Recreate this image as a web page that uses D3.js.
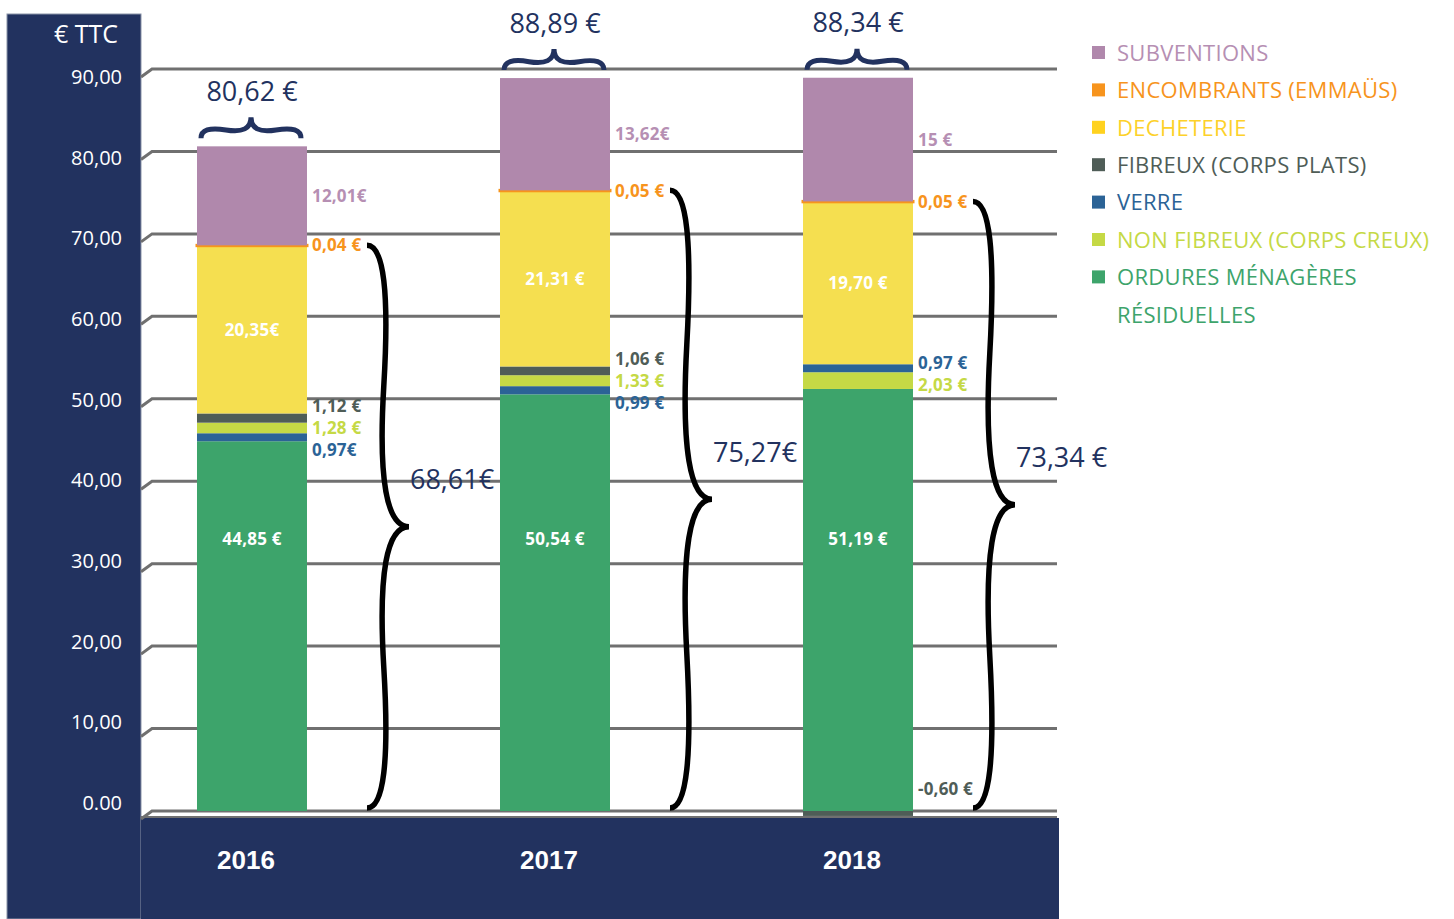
<!DOCTYPE html>
<head>
  <meta charset="utf-8">
  <title>Coût du service déchets par habitant</title>
  <script src="https://d3js.org/d3.v7.min.js"></script>
  <style>
    body { margin: 0; background: #fff; }
    text { font-family: "Open Sans", sans-serif; }
    .tick-label { fill: #fff; font-size: 20px; }
    .year { fill: #fff; font-family: "Liberation Sans", Arial, sans-serif; font-weight: bold; font-size: 26px; }
    .val { font-size: 17px; font-weight: bold; letter-spacing: 0.2px; }
    .total { fill: #22325F; font-size: 27px; }
    .legend text { font-size: 22px; letter-spacing: 0.3px; }
  </style>
</head>
<body>
  <svg width="1454" height="919"></svg>
  <script>
    // data
    const years = ["2016", "2017", "2018"];
    const tickValues = [0, 10, 20, 30, 40, 50, 60, 70, 80, 90];
    const tickLabels = ["0.00", "10,00", "20,00", "30,00", "40,00", "50,00", "60,00", "70,00", "80,00", "90,00"];

    const ordures     = [44.85, 50.54, 51.19];
    const verre       = [0.97, 0.99, 0.97];
    const nonFibreux  = [1.28, 1.33, 2.03];
    const fibreux     = [1.12, 1.06, -0.60];
    const decheterie  = [20.35, 21.31, 19.70];
    const encombrants = [0.04, 0.05, 0.05];
    const subventions = [12.01, 13.62, 15];

    const ordLabels  = ["44,85 €", "50,54 €", "51,19 €"];
    const verLabels  = ["0,97€", "0,99 €", "0,97 €"];
    const nfLabels   = ["1,28 €", "1,33 €", "2,03 €"];
    const fibLabels  = ["1,12 €", "1,06 €", "-0,60 €"];
    const decLabels  = ["20,35€", "21,31 €", "19,70 €"];
    const encLabels  = ["0,04 €", "0,05 €", "0,05 €"];
    const subLabels  = ["12,01€", "13,62€", "15 €"];

    const totalLabels    = ["80,62 €", "88,89 €", "88,34 €"];
    const subtotalLabels = ["68,61€", "75,27€", "73,34 €"];

    // series (bottom to top)
    const series = [
      {key: "ord", name: "ORDURES MÉNAGÈRES|RÉSIDUELLES", values: ordures, labels: ordLabels, color: "#3DA46B", text: "#3DA46B", inside: true},
      {key: "ver", name: "VERRE", values: verre, labels: verLabels, color: "#2B6396", text: "#2B6396"},
      {key: "nf", name: "NON FIBREUX (CORPS CREUX)", values: nonFibreux, labels: nfLabels, color: "#C5D945", text: "#C5D945"},
      {key: "fib", name: "FIBREUX (CORPS PLATS)", values: fibreux, labels: fibLabels, color: "#4F5D57", text: "#4F5D57"},
      {key: "dec", name: "DECHETERIE", values: decheterie, labels: decLabels, color: "#F5DF50", square: "#FFD21F", text: "#FDD12A", inside: true},
      {key: "enc", name: "ENCOMBRANTS (EMMAÜS)", values: encombrants, labels: encLabels, color: "#F7941D", text: "#F7941D"},
      {key: "sub", name: "SUBVENTIONS", values: subventions, labels: subLabels, color: "#B088AC", text: "#B68FB3"}
    ];
    // 2018 has the glass layer stacked above the non fibrous one
    const stackOrders = [
      ["ord", "ver", "nf", "fib", "dec", "enc", "sub"],
      ["ord", "ver", "nf", "fib", "dec", "enc", "sub"],
      ["ord", "nf", "ver", "fib", "dec", "enc", "sub"]
    ];
    const legendOrder = ["sub", "enc", "dec", "fib", "ver", "nf", "ord"];

    const navy = "#22325F";
    const svg = d3.select("svg");

    const x = d3.scaleBand().domain(years).range([152, 958])
      .paddingInner(0.637).paddingOuter(0.1485);
    const y = d3.scaleLinear().domain([0, 90]).range([811, 69]);
    // tick texts sit on the front edge of the perspective step
    const yLabel = d3.scaleLinear().domain([0, 90]).range([803, 77]);

    // navy panels
    svg.append("rect").attr("x", 7).attr("y", 14).attr("width", 134).attr("height", 905)
      .attr("fill", navy).attr("stroke", "#8a93a8").attr("stroke-width", 1);
    svg.append("rect").attr("x", 141).attr("y", y(0) + 7).attr("width", 918).attr("height", 919 - y(0) - 7)
      .attr("fill", navy);

    svg.append("text").attr("x", 118).attr("y", 43).attr("text-anchor", "end")
      .attr("fill", "#fff").style("font-size", "25px").text("€ TTC");

    // grid with a small perspective step at the wall
    const grid = svg.append("g");
    tickValues.forEach((v, i) => {
      const gy = y(v);
      grid.append("path")
        .attr("d", `M141,${gy + 8}L152,${gy}L1057,${gy}`)
        .attr("fill", "none").attr("stroke", "#707070").attr("stroke-width", 3);
      svg.append("text").attr("class", "tick-label")
        .attr("x", 122).attr("y", yLabel(v)).attr("dy", "0.35em").attr("text-anchor", "end")
        .text(tickLabels[i]);
    });
    grid.append("line").attr("x1", 141).attr("x2", 1057).attr("y1", y(0) + 6).attr("y2", y(0) + 6)
      .attr("stroke", "#707070").attr("stroke-width", 2);

    // stack each year
    const segs = [];
    years.forEach((yr, j) => {
      let pos = 0, neg = 0;
      stackOrders[j].forEach(k => {
        const s = series.find(d => d.key === k);
        const v = s.values[j];
        let y0, y1;
        if (v >= 0) { y0 = pos; y1 = pos + v; pos = y1; }
        else { y0 = neg + v; y1 = neg; neg = y0; }
        segs.push({s, yr, j, v, y0, y1});
      });
    });

    svg.append("g").selectAll("rect").data(segs).join("rect")
      .attr("x", d => x(d.yr))
      .attr("y", d => y(d.y1))
      .attr("width", x.bandwidth())
      .attr("height", d => y(d.y0) - y(d.y1))
      .attr("fill", d => d.s.color)
      .attr("stroke", d => d.s.key === "enc" ? d.s.color : "none")
      .attr("stroke-width", 3);

    // value labels
    const insideLevel = {ord: d => y(33), dec: d => (y(d.y0) + y(d.y1)) / 2};
    const labelG = svg.append("g");
    years.forEach((yr, j) => {
      const mine = segs.filter(d => d.j === j);
      mine.filter(d => d.s.inside).forEach(d => {
        labelG.append("text").attr("class", "val")
          .attr("x", x(yr) + x.bandwidth() / 2).attr("y", insideLevel[d.s.key](d))
          .attr("dy", "0.35em").attr("text-anchor", "middle").attr("fill", "#fff")
          .text(d.s.labels[j]);
      });
      // outside labels, relaxed so they do not overlap
      const outs = mine.filter(d => !d.s.inside).map(d => ({
        d, ly: d.v < 0 ? y(0) - 22 : (y(d.y0) + y(d.y1)) / 2
      })).sort((a, b) => a.ly - b.ly);
      for (let it = 0; it < 60; it++) {
        for (let i = 1; i < outs.length; i++) {
          const gap = outs[i].ly - outs[i - 1].ly;
          if (gap < 22) {
            const m = (22 - gap) / 2;
            outs[i].ly += m; outs[i - 1].ly -= m;
          }
        }
      }
      outs.forEach(o => {
        labelG.append("text").attr("class", "val")
          .attr("x", x(yr) + x.bandwidth() + 5).attr("y", o.ly).attr("dy", "0.35em")
          .attr("fill", o.d.s.text).text(o.d.s.labels[j]);
      });
    });

    // curly brace path (tip on the left of the x1->x2 direction)
    function brace(x1, y1, x2, y2, w, q) {
      const len = Math.hypot(x1 - x2, y1 - y2);
      const dx = (x1 - x2) / len, dy = (y1 - y2) / len;
      const qx1 = x1 + q * w * dy, qy1 = y1 - q * w * dx;
      const qx2 = (x1 - .25 * len * dx) + (1 - q) * w * dy, qy2 = (y1 - .25 * len * dy) - (1 - q) * w * dx;
      const tx1 = (x1 - .5 * len * dx) + w * dy, ty1 = (y1 - .5 * len * dy) - w * dx;
      const qx3 = x2 + q * w * dy, qy3 = y2 - q * w * dx;
      const qx4 = (x1 - .75 * len * dx) + (1 - q) * w * dy, qy4 = (y1 - .75 * len * dy) - (1 - q) * w * dx;
      return `M${x1},${y1}Q${qx1},${qy1} ${qx2},${qy2}T${tx1},${ty1}` +
             `M${x2},${y2}Q${qx3},${qy3} ${qx4},${qy4}T${tx1},${ty1}`;
    }

    years.forEach((yr, j) => {
      const mine = segs.filter(d => d.j === j);
      const top = d3.max(mine, d => d.y1);
      const sub = top - subventions[j];
      const bx = x(yr), bw = x.bandwidth();

      // total above the bar
      const ty = y(top);
      svg.append("path")
        .attr("d", brace(bx + bw - 6, ty - 8, bx + 4, ty - 8, 21, 0.6))
        .attr("fill", "none").attr("stroke", navy).attr("stroke-width", 5);
      svg.append("text").attr("class", "total")
        .attr("x", bx + bw / 2).attr("y", ty - 55).attr("dy", "0.35em").attr("text-anchor", "middle")
        .text(totalLabels[j]);

      // subtotal without subsidies, to the right
      const rx = bx + bw + 60;
      svg.append("path")
        .attr("d", brace(rx, y(0) - 3, rx, y(sub), 42, 0.6))
        .attr("fill", "none").attr("stroke", "#000").attr("stroke-width", 5.5);
      const tipY = (y(0) - 3 + y(sub)) / 2;
      svg.append("text").attr("class", "total")
        .attr("x", rx + 43).attr("y", tipY - 47).attr("dy", "0.35em")
        .text(subtotalLabels[j]);

      svg.append("text").attr("class", "year")
        .attr("x", bx + bw / 2 - 6).attr("y", 860).attr("dy", "0.35em").attr("text-anchor", "middle")
        .text(yr);
    });

    // legend
    const legend = svg.append("g").attr("class", "legend");
    legendOrder.map(k => series.find(s => s.key === k)).forEach((s, i) => {
      const ly = 53 + i * 37.4;
      legend.append("rect").attr("x", 1092).attr("y", ly - 7).attr("width", 13).attr("height", 13)
        .attr("fill", s.square || s.color);
      s.name.split("|").forEach((line, k) => {
        legend.append("text").attr("x", 1117).attr("y", ly + k * 37.4).attr("dy", "0.35em")
          .attr("fill", s.text).text(line);
      });
    });
  </script>
</body>
